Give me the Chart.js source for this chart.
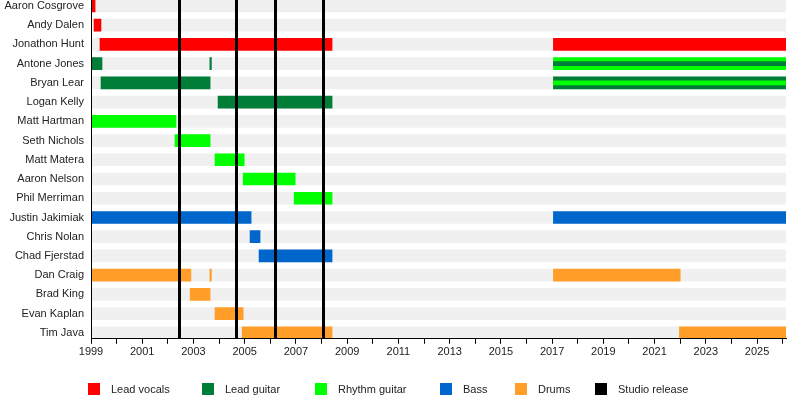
<!DOCTYPE html>
<html>
<head>
<meta charset="utf-8">
<script src="https://cdn.jsdelivr.net/npm/chart.js@4"></script>
<style>
  body { margin: 0; background: #fff; font-family: "Liberation Sans", Arial, sans-serif; }
  #wrap { position: relative; width: 800px; height: 400px; }
  #legend { position: absolute; left: 0; top: 382px; width: 800px; height: 14px; font-size: 11px; color: #222; }
  .item { position: absolute; top: 0; height: 14px; line-height: 14px; }
  .sw { display: inline-block; width: 12px; height: 12px; vertical-align: -2px; margin-right: 11px; }
</style>
</head>
<body>
<div id="wrap">
  <canvas id="chart" width="800" height="400"></canvas>
  <div id="legend"></div>
</div>
<script>
// members, top to bottom
const members = [
  "Aaron Cosgrove", "Andy Dalen", "Jonathon Hunt", "Antone Jones", "Bryan Lear",
  "Logan Kelly", "Matt Hartman", "Seth Nichols", "Matt Matera", "Aaron Nelson",
  "Phil Merriman", "Justin Jakimiak", "Chris Nolan", "Chad Fjerstad", "Dan Craig",
  "Brad King", "Evan Kaplan", "Tim Java"
];

const startYear = 1999;
const endYear = 2026.13;

// [member, from, to]
const leadVocals = [
  ["Aaron Cosgrove", 1999.0, 1999.16],
  ["Andy Dalen", 1999.12, 1999.39],
  ["Jonathon Hunt", 1999.35, 2008.41],
  ["Jonathon Hunt", 2017.05, 2026.13]
];
const leadGuitar = [
  ["Antone Jones", 1999.0, 1999.43],
  ["Antone Jones", 2003.64, 2003.70],
  ["Bryan Lear", 1999.39, 2003.65],
  ["Bryan Lear", 2017.05, 2026.13],
  ["Logan Kelly", 2003.96, 2008.41]
];
const rhythmGuitar = [
  ["Antone Jones", 2017.05, 2026.13],
  ["Matt Hartman", 1999.0, 2002.32],
  ["Seth Nichols", 2002.28, 2003.65],
  ["Matt Matera", 2003.84, 2004.98],
  ["Aaron Nelson", 2004.94, 2006.97],
  ["Phil Merriman", 2006.93, 2008.41]
];
// second role drawn as a thin stripe inside the main bar
const leadGuitarStripe = [["Antone Jones", 2017.05, 2026.13]];
const rhythmGuitarStripe = [["Bryan Lear", 2017.05, 2026.13]];
const bass = [
  ["Justin Jakimiak", 1999.0, 2005.25],
  ["Justin Jakimiak", 2017.05, 2026.13],
  ["Chris Nolan", 2005.21, 2005.60],
  ["Chad Fjerstad", 2005.56, 2008.41]
];
const drums = [
  ["Dan Craig", 1999.0, 2002.90],
  ["Dan Craig", 2003.64, 2003.70],
  ["Dan Craig", 2017.05, 2022.0],
  ["Brad King", 2002.87, 2003.65],
  ["Evan Kaplan", 2003.84, 2004.94],
  ["Tim Java", 2004.90, 2008.41],
  ["Tim Java", 2021.97, 2026.13]
];
const studioReleases = [2002.42, 2004.66, 2006.19, 2008.07];

const colors = {
  vocals: "#ff0000",
  leadGuitar: "#007d36",
  rhythm: "#00ff00",
  bass: "#0066cc",
  drums: "#ff9f2a",
  release: "#000000",
  band: "#f0f0f0"
};

const toPoints = spans => spans.map(s => ({ y: members.indexOf(s[0]), x: [s[1], s[2]] }));

function barSet(label, spans, color, thickness, order) {
  return {
    label: label,
    data: toPoints(spans),
    backgroundColor: color,
    barThickness: thickness,
    grouped: false,
    order: order,
    borderWidth: 0
  };
}

const bands = members.map(m => [m, startYear, endYear]);

const releaseLines = {
  id: "releaseLines",
  afterDatasetsDraw(chart) {
    const { ctx, chartArea, scales } = chart;
    ctx.save();
    ctx.strokeStyle = colors.release;
    ctx.lineWidth = 3;
    studioReleases.forEach(yr => {
      const px = Math.round(scales.x.getPixelForValue(yr)) + 0.5;
      ctx.beginPath();
      ctx.moveTo(px, chartArea.top);
      ctx.lineTo(px, chartArea.bottom);
      ctx.stroke();
    });
    ctx.restore();
  }
};

Chart.defaults.font.family = '"Liberation Sans", Arial, sans-serif';
Chart.defaults.font.size = 11;
Chart.defaults.color = "#222";

new Chart(document.getElementById("chart"), {
  type: "bar",
  data: {
    datasets: [
      barSet("band", bands, colors.band, 12, 20),
      barSet("Lead vocals", leadVocals, colors.vocals, 12, 5),
      barSet("Lead guitar", leadGuitar, colors.leadGuitar, 12, 5),
      barSet("Rhythm guitar", rhythmGuitar, colors.rhythm, 12, 5),
      barSet("Bass", bass, colors.bass, 12, 5),
      barSet("Drums", drums, colors.drums, 12, 5),
      barSet("lead stripe", leadGuitarStripe, colors.leadGuitar, 4, 1),
      barSet("rhythm stripe", rhythmGuitarStripe, colors.rhythm, 4, 1)
    ]
  },
  options: {
    indexAxis: "y",
    responsive: false,
    animation: false,
    layout: { padding: { top: 0, right: 14, bottom: 39, left: 0 } },
    plugins: { legend: { display: false }, tooltip: { enabled: false } },
    scales: {
      x: {
        type: "linear",
        min: startYear,
        max: endYear,
        grid: { drawOnChartArea: false, tickLength: 5, color: "#000" },
        border: { color: "#000", width: 1, z: 1 },
        ticks: {
          stepSize: 1,
          autoSkip: false,
          includeBounds: false,
          maxRotation: 0,
          padding: 2,
          callback: v => (v % 2 === 1 ? String(v) : "")
        }
      },
      y: {
        type: "linear",
        reverse: true,
        offset: false,
        min: -0.31,
        max: members.length - 1 + 0.31,
        afterBuildTicks: s => { s.ticks = members.map((m, i) => ({ value: i })); },
        afterFit: s => { s.width = 91; s.paddingTop = 0; s.paddingBottom = 0; },
        grid: { display: false, drawTicks: false, offset: false },
        border: { color: "#000", width: 1, z: 1 },
        ticks: { padding: 7, autoSkip: false, callback: v => members[v] }
      }
    }
  },
  plugins: [releaseLines]
});

// legend below the plot
const legendItems = [
  ["Lead vocals", colors.vocals, 88],
  ["Lead guitar", colors.leadGuitar, 202],
  ["Rhythm guitar", colors.rhythm, 315],
  ["Bass", colors.bass, 440],
  ["Drums", colors.drums, 515],
  ["Studio release", colors.release, 595]
];
const legend = document.getElementById("legend");
legendItems.forEach(([text, color, left]) => {
  const d = document.createElement("div");
  d.className = "item";
  d.style.left = left + "px";
  d.innerHTML = `<span class="sw" style="background:${color}"></span>${text}`;
  legend.appendChild(d);
});
</script>
</body>
</html>
